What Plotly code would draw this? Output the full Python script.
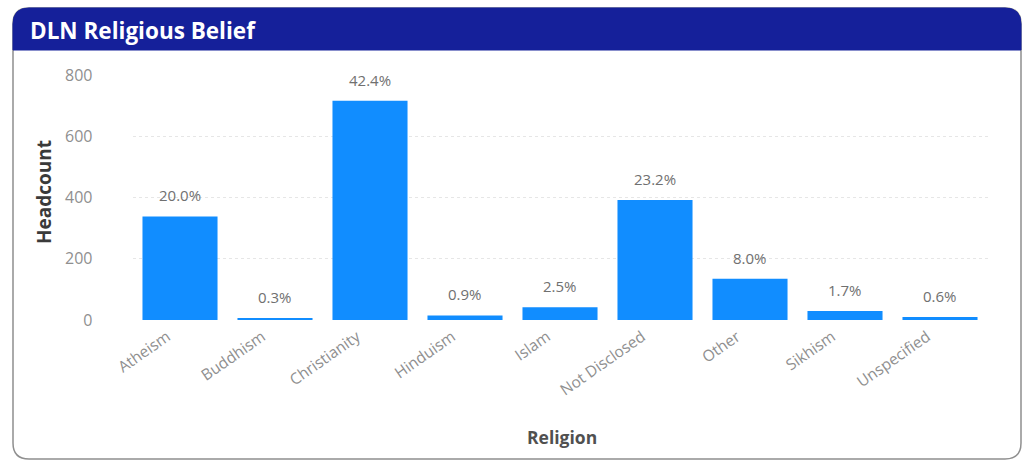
import plotly.graph_objects as go

# Headcount by religion
religions = ["Atheism", "Buddhism", "Christianity", "Hinduism", "Islam",
             "Not Disclosed", "Other", "Sikhism", "Unspecified"]
headcount = [338, 5, 716, 15, 42, 392, 135, 29, 10]
total_headcount = 1690  # all staff records, including those not listed above

y_ticks = [0, 200, 400, 600, 800]

share_labels = [f"{v / total_headcount * 100:.1f}%" for v in headcount]

W, H = 1034, 462
FONT = "Open Sans"


def px(x):
    return x / W


def py(y):
    return 1 - y / H


def rounded_path(x0, y0, x1, y1, r, bottom_round=True):
    rx, ry = r / W, r / H
    p = f"M {px(x0) + rx} {py(y0)} L {px(x1) - rx} {py(y0)} "
    p += f"Q {px(x1)} {py(y0)} {px(x1)} {py(y0) - ry} "
    if bottom_round:
        p += f"L {px(x1)} {py(y1) + ry} Q {px(x1)} {py(y1)} {px(x1) - rx} {py(y1)} "
        p += f"L {px(x0) + rx} {py(y1)} Q {px(x0)} {py(y1)} {px(x0)} {py(y1) + ry} "
    else:
        p += f"L {px(x1)} {py(y1)} L {px(x0)} {py(y1)} "
    p += f"L {px(x0)} {py(y0) - ry} Q {px(x0)} {py(y0)} {px(x0) + rx} {py(y0)} Z"
    return p


fig = go.Figure(go.Bar(
    x=religions,
    y=headcount,
    marker=dict(color="#118dff", line=dict(width=0)),
    hoverinfo="x+y",
))

# share labels floating above each bar
label_annotations = [
    dict(x=r, y=v, xref="x", yref="y", text=t, showarrow=False,
         yanchor="middle", yshift=21,
         font=dict(family=FONT, size=15, color="#707070"))
    for r, v, t in zip(religions, headcount, share_labels)
]

fig.update_layout(
    width=W, height=H,
    autosize=False,
    margin=dict(l=0, r=0, t=0, b=0, pad=0),
    paper_bgcolor="white",
    plot_bgcolor="rgba(0,0,0,0)",
    showlegend=False,
    bargap=0.21,
    xaxis=dict(
        domain=[px(132.5), px(987.5)],
        automargin=False,
        tickangle=-35,
        tickfont=dict(family=FONT, size=15.5, color="#8f8f8f"),
        showgrid=False, showline=False, zeroline=False,
        ticks="", ticklabelshift=-13, ticklabelstandoff=4,
    ),
    yaxis=dict(
        domain=[py(320), py(75)],
        automargin=False,
        range=[0, 800],
        tickvals=y_ticks,
        tickfont=dict(family=FONT, size=16, color="#8f8f8f"),
        showgrid=True, gridcolor="#e6e6e6", griddash="dot", gridwidth=1,
        zeroline=False, showline=False, ticks="", ticklabelstandoff=39,
    ),
    shapes=[
        # card outline
        dict(type="path", xref="paper", yref="paper", layer="below",
             path=rounded_path(13, 8, 1021, 459, 16),
             fillcolor="white", line=dict(color="#8f8f8f", width=1.5)),
        # header band
        dict(type="path", xref="paper", yref="paper", layer="below",
             path=rounded_path(13, 8, 1021, 50, 16, bottom_round=False),
             fillcolor="#15209a", line=dict(color="#15209a", width=1)),
    ],
    annotations=label_annotations + [
        dict(text="<b>DLN Religious Belief</b>", xref="paper", yref="paper",
             x=px(28), y=py(30), xanchor="left", yanchor="middle",
             showarrow=False, font=dict(family=FONT, size=22.5, color="white")),
        dict(text="<b>Headcount</b>", xref="paper", yref="paper",
             x=px(44), y=py(192), xanchor="center", yanchor="middle",
             textangle=-90, showarrow=False,
             font=dict(family=FONT, size=19, color="#3a3a3a")),
        dict(text="<b>Religion</b>", xref="paper", yref="paper",
             x=px(562), y=py(437), xanchor="center", yanchor="middle",
             showarrow=False,
             font=dict(family=FONT, size=17.5, color="#505050")),
    ],
)

# the page itself carries no margin, so the figure fills the window exactly
fig.write_html(
    "out.html",
    config={"responsive": False, "displayModeBar": False},
    post_script="document.body.style.margin='0px';"
                "document.body.style.overflow='hidden';",
)
